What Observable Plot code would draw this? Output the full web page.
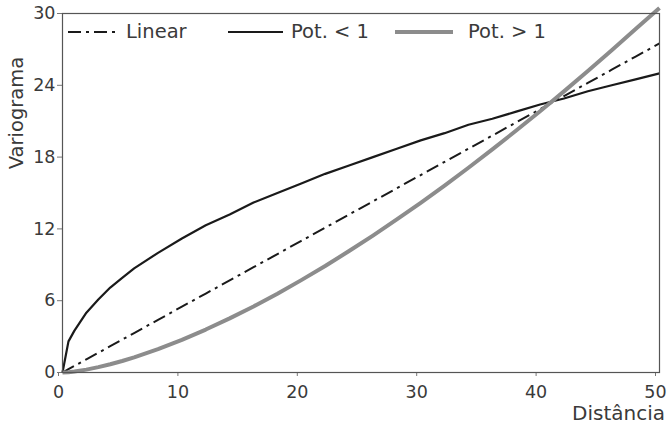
<!DOCTYPE html>
<html>
<head>
<meta charset="utf-8">
<script src="https://cdn.jsdelivr.net/npm/d3@7"></script>
<script src="https://cdn.jsdelivr.net/npm/@observablehq/plot@0.6"></script>
<style>
  html, body { margin: 0; padding: 0; background: #fff; }
  #chart { position: relative; width: 668px; height: 424px; }
  svg { font-family: "DejaVu Sans", sans-serif; }
</style>
</head>
<body>
<div id="chart"></div>
<script>
const distancia = [0, 0.5, 1, 2, 3, 4, 5, 6, 8, 10, 12, 14, 16, 18, 20, 22, 24, 26, 28, 30, 32, 34, 36, 38, 40, 42, 44, 46, 48, 50];
const linear   = [0, 0.28, 0.55, 1.1, 1.65, 2.2, 2.75, 3.3, 4.4, 5.5, 6.6, 7.7, 8.8, 9.9, 11.0, 12.1, 13.2, 14.3, 15.4, 16.5, 17.6, 18.7, 19.8, 20.9, 22.0, 23.1, 24.2, 25.3, 26.4, 27.5];
const potMenor = [0, 2.6, 3.5, 5.0, 6.1, 7.1, 7.9, 8.7, 10.0, 11.2, 12.3, 13.2, 14.2, 15.0, 15.8, 16.6, 17.3, 18.0, 18.7, 19.4, 20.0, 20.7, 21.2, 21.8, 22.4, 22.9, 23.5, 24.0, 24.5, 25.0];
const potMaior = [0, 0.03, 0.09, 0.24, 0.45, 0.69, 0.96, 1.27, 1.95, 2.73, 3.59, 4.52, 5.52, 6.59, 7.72, 8.9, 10.15, 11.44, 12.79, 14.18, 15.62, 17.11, 18.64, 20.22, 21.83, 23.49, 25.19, 26.92, 28.7, 30.45];
const xTicks = [0, 10, 20, 30, 40, 50];
const yTicks = [0, 6, 12, 18, 24, 30];
const seriesNames = ["Linear", "Pot. < 1", "Pot. > 1"];

const styles = {
  "Linear":   {stroke: "#1a1a1a", strokeWidth: 2, strokeDasharray: "13,5,3,5"},
  "Pot. < 1": {stroke: "#1a1a1a", strokeWidth: 2.2},
  "Pot. > 1": {stroke: "#8c8c8c", strokeWidth: 4}
};
const seriesValues = {"Linear": linear, "Pot. < 1": potMenor, "Pot. > 1": potMaior};

const lineMarks = seriesNames.map(name =>
  Plot.line(distancia.map((d, i) => ({x: d, y: seriesValues[name][i]})), {
    x: "x", y: "y", ...styles[name], strokeLinejoin: "round", strokeLinecap: "butt"
  })
);

const plot = Plot.plot({
  width: 668,
  height: 424,
  marginLeft: 62,
  marginRight: 9,
  marginTop: 13,
  marginBottom: 52,
  style: {fontFamily: "DejaVu Sans, sans-serif", fontSize: "17.5px", color: "#3a3a3a", background: "#fff"},
  x: {domain: [0, 50], ticks: xTicks, label: null},
  y: {domain: [0, 30], ticks: yTicks, label: null},
  marks: [
    Plot.axisX({ticks: xTicks, tickSize: 4, tickPadding: 9, dx: -4, stroke: "#777", fontSize: 17.5, fill: "#3a3a3a"}),
    Plot.axisY({ticks: yTicks, tickSize: 5, tickPadding: 2, stroke: "#777", fontSize: 17.5, fill: "#3a3a3a"}),
    ...lineMarks,
    Plot.frame({stroke: "#555", strokeWidth: 1.2})
  ]
});

const svg = d3.select(plot);
// axis titles
svg.append("text")
  .attr("x", 665).attr("y", 420)
  .attr("text-anchor", "end")
  .attr("fill", "#3a3a3a")
  .style("font-size", "20px")
  .text("Distância");
svg.append("text")
  .attr("transform", "translate(23,113) rotate(-90)")
  .attr("text-anchor", "middle")
  .attr("fill", "#3a3a3a")
  .style("font-size", "19.5px")
  .text("Variograma");

// legend
const legendPos = [
  {x0: 68, x1: 118, tx: 126},
  {x0: 228, x1: 283, tx: 291},
  {x0: 395, x1: 453, tx: 468}
];
seriesNames.forEach((name, i) => {
  const p = legendPos[i];
  const s = styles[name];
  svg.append("line")
    .attr("x1", p.x0).attr("x2", p.x1).attr("y1", 32).attr("y2", 32)
    .attr("stroke", s.stroke).attr("stroke-width", s.strokeWidth)
    .attr("stroke-dasharray", name === "Linear" ? "13,5,3,5" : null);
  svg.append("text")
    .attr("x", p.tx).attr("y", 38)
    .attr("text-anchor", "start")
    .attr("fill", "#3a3a3a")
    .style("font-size", "19.5px")
    .text(name);
});

document.getElementById("chart").appendChild(plot);
</script>
</body>
</html>
